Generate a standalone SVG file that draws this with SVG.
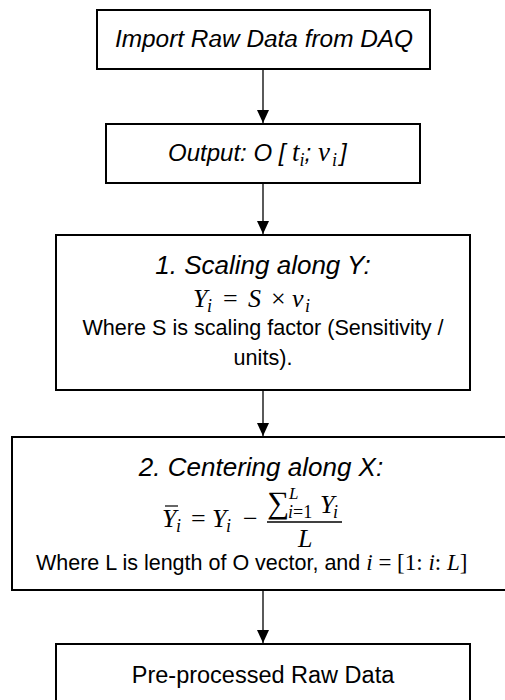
<svg xmlns="http://www.w3.org/2000/svg" width="505" height="700" viewBox="0 0 505 700">
<defs>
<marker id="ah" markerWidth="13" markerHeight="12" refX="13" refY="6" orient="auto" markerUnits="userSpaceOnUse" viewBox="0 0 13 12">
<path d="M0,0 L13,6 L0,12 Z" fill="#000"/>
</marker>
<style>
.box{fill:#fff;stroke:#000;stroke-width:2}
.conn{stroke:#000;stroke-width:1.3;fill:none}
.sans{font-family:"Liberation Sans",Arial,sans-serif;fill:#000}
.it{font-style:italic}
.m{font-family:"Liberation Serif","DejaVu Serif",serif;font-style:italic;fill:#000}
.up{font-style:normal}
.c{text-anchor:middle}
</style>
</defs>
<rect width="505" height="700" fill="#fff"/>
<g id="connectors">
<line class="conn" x1="263" y1="70" x2="263" y2="123" marker-end="url(#ah)"/>
<line class="conn" x1="263" y1="184" x2="263" y2="234" marker-end="url(#ah)"/>
<line class="conn" x1="263" y1="391" x2="263" y2="436" marker-end="url(#ah)"/>
<line class="conn" x1="263" y1="591" x2="263" y2="643" marker-end="url(#ah)"/>
</g>
<g id="n1">
<rect class="box" x="97" y="10" width="333" height="59"/>
<text class="sans it c" x="264" y="47" font-size="24.4">Import Raw Data from DAQ</text>
</g>
<g id="n2">
<rect class="box" x="106" y="124" width="314" height="59"/>
<text class="sans it" x="168" y="161" font-size="24">Output: O [ <tspan class="m" font-size="27">t</tspan><tspan class="m" font-size="18" dy="5">i</tspan><tspan dy="-5">; </tspan><tspan class="m" font-size="27">v</tspan><tspan class="m" font-size="18" dx="2" dy="5">i</tspan><tspan dx="3" dy="-5">]</tspan></text>
</g>
<g id="n3">
<rect class="box" x="56" y="235" width="414" height="155"/>
<text class="sans it c" x="263" y="274" font-size="26">1. Scaling along Y:</text>
<text class="m" y="307" font-size="26"><tspan x="193">Y</tspan><tspan x="207" dy="5" font-size="18">i</tspan><tspan class="up" x="223" dy="-5">=</tspan><tspan x="248">S</tspan><tspan class="up" x="271">×</tspan><tspan x="292">v</tspan><tspan x="305" dy="5" font-size="18">i</tspan></text>
<text class="sans c" x="263" y="335" font-size="21.6">Where S is scaling factor (Sensitivity /</text>
<text class="sans c" x="263" y="365" font-size="21.6">units).</text>
</g>
<g id="n4">
<rect class="box" x="12" y="437" width="503" height="153"/>
<text class="sans it c" x="261" y="476" font-size="26">2. Centering along X:</text>
<text class="m" y="527" font-size="26"><tspan x="162">Y</tspan><tspan x="176" dy="5" font-size="18">i</tspan><tspan class="up" x="191" dy="-5">=</tspan><tspan x="212">Y</tspan><tspan x="226" dy="5" font-size="18">i</tspan><tspan class="up" x="243" dy="-5">−</tspan></text>
<line x1="165" y1="506" x2="178" y2="506" stroke="#000" stroke-width="1.2"/>
<text class="m" y="513" font-size="26"><tspan class="up" x="267" font-size="31">∑</tspan><tspan x="289" y="499" font-size="17">L</tspan><tspan x="288" y="518" font-size="18">i<tspan class="up">=1</tspan></tspan><tspan x="320" y="513">Y</tspan><tspan x="333" y="518" font-size="18">i</tspan></text>
<line x1="267" y1="522" x2="342" y2="522" stroke="#000" stroke-width="1.3"/>
<text class="m" x="298" y="547" font-size="26">L</text>
<text class="sans" x="36" y="570" font-size="21.5">Where L is length of O vector, and <tspan class="m" font-size="23">i<tspan class="up"> = [1: </tspan>i<tspan class="up">: </tspan>L<tspan class="up">]</tspan></tspan></text>
</g>
<g id="n5">
<rect class="box" x="56" y="644" width="414" height="62"/>
<text class="sans c" x="263" y="683" font-size="23.5">Pre-processed Raw Data</text>
</g>
</svg>
